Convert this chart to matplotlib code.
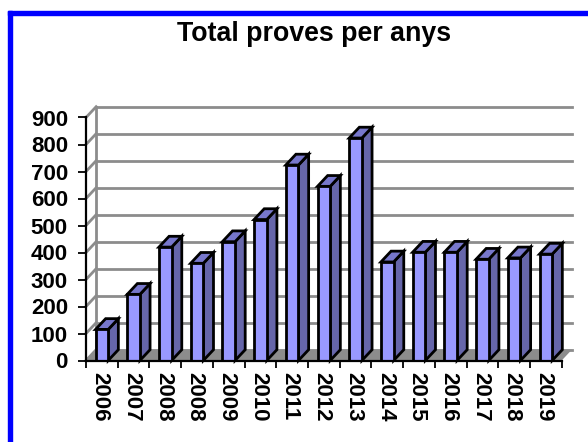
import numpy as np
import matplotlib
matplotlib.use('Agg')
import matplotlib.pyplot as plt
from matplotlib.patches import Polygon, Rectangle
from matplotlib.transforms import ScaledTranslation

plt.rcParams['font.family'] = ['Liberation Sans', 'DejaVu Sans']

# data
years = ['2006', '2007', '2008', '2008', '2009', '2010', '2011', '2012', '2013',
         '2014', '2015', '2016', '2017', '2018', '2019']
values = [115, 245, 420, 360, 440, 522, 724, 645, 824, 365, 401, 401, 375, 380, 394]
y_ticks = [0, 100, 200, 300, 400, 500, 600, 700, 800, 900]

# fake 3d depth, in data units
dx = 0.32
dy = 40
bar_w = 0.40

W, H = 588, 442
fig = plt.figure(figsize=(W / 100, H / 100), dpi=100)

# blue frame
fig.add_artist(Rectangle((8 / W, 0), 4 / W, 1 - 11 / H, color='#0000ff', transform=fig.transFigure))
fig.add_artist(Rectangle((8 / W, 1 - 15 / H), 1 - 8 / W, 4 / H, color='#0000ff', transform=fig.transFigure))

ax = fig.add_axes([86 / W, 1 - 360.5 / H, 475.7 / W, 243 / H])
n = len(years)
ax.set_xlim(0, n)
ax.set_ylim(0, 900)

grey = '#8c8c8c'

# floor
ax.add_patch(Polygon([(0, 0), (n, 0), (n + dx, dy), (dx, dy)], fc='#8c8c8c', ec='none',
                     clip_on=False, zorder=1))

# walls and grid
for v in y_ticks:
    ax.plot([0, dx], [v, v + dy], color=grey, lw=2, clip_on=False, zorder=1)
    ax.plot([dx, n + dx], [v + dy, v + dy], color=grey, lw=2, clip_on=False, zorder=1)
ax.plot([dx, dx], [dy, 900 + dy], color=grey, lw=2, clip_on=False, zorder=1)

# bars
for i, v in enumerate(values):
    x0 = i + 0.5 - bar_w / 2
    x1 = x0 + bar_w
    z = 3 + i
    ax.add_patch(Polygon([(x1, 0), (x1 + dx, dy), (x1 + dx, v + dy), (x1, v)],
                         fc='#6666aa', ec='black', lw=2, clip_on=False, zorder=z))
    ax.add_patch(Polygon([(x0, v), (x1, v), (x1 + dx, v + dy), (x0 + dx, v + dy)],
                         fc='#7777cc', ec='black', lw=2, clip_on=False, zorder=z))
    ax.bar(i + 0.5, v, width=bar_w, color='#9999ff', edgecolor='black', linewidth=2, zorder=z)

for s in ['top', 'right']:
    ax.spines[s].set_visible(False)
for s in ['left', 'bottom']:
    ax.spines[s].set_linewidth(1.6)
    ax.spines[s].set_zorder(30)

ax.set_yticks(y_ticks)
ax.set_yticklabels([str(v) for v in y_ticks], fontsize=16, fontweight='bold')
ax.tick_params(axis='y', length=6, width=1.3, pad=7)

ax.set_xticks(np.arange(n + 1))
ax.set_xticklabels([])
ax.tick_params(axis='x', which='major', length=5, width=1.3)
ax.set_xticks(np.arange(n) + 0.5, minor=True)
ax.set_xticklabels(years, minor=True, rotation=270, fontsize=16, fontweight='bold')
ax.tick_params(axis='x', which='minor', length=0, pad=8)
# labels sit a bit left of the category centre
for lab in ax.get_xticklabels(minor=True):
    lab.set_transform(lab.get_transform() + ScaledTranslation(-2 / 100, 0, fig.dpi_scale_trans))

fig.text(314 / W, 1 - 34 / H, 'Total proves per anys', ha='center', va='center',
         fontsize=19.3, fontweight='bold')

fig.savefig('out.png', dpi=100)
